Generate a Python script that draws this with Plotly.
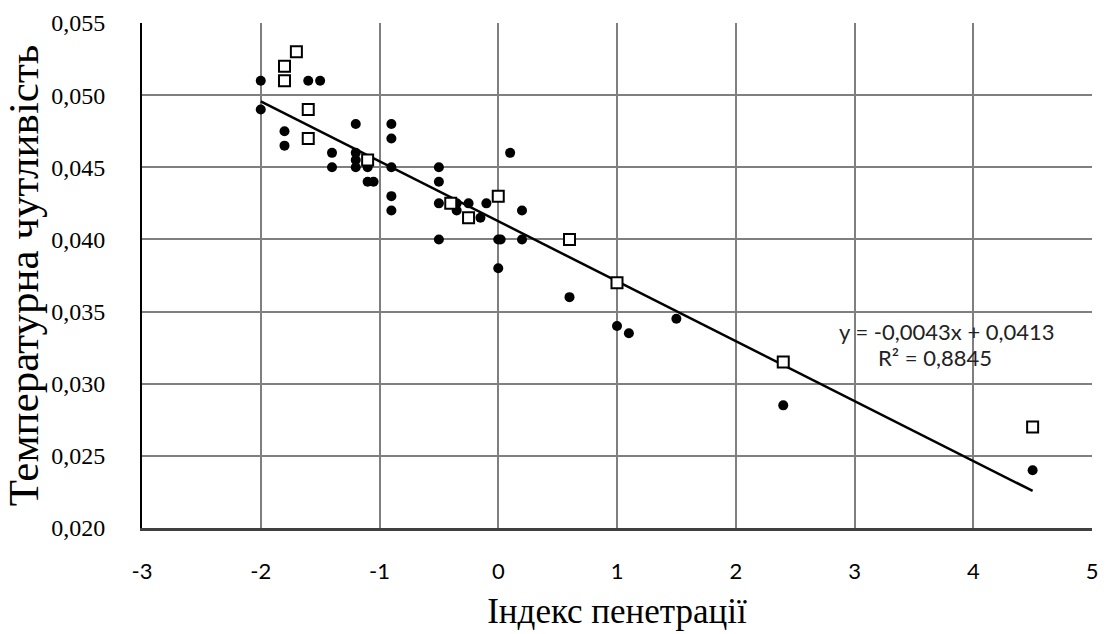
import numpy as np
import plotly.graph_objects as go

# Filled circles (series 1)
dots_x = [-2.0, -2.0, -1.8, -1.8, -1.6, -1.5, -1.4, -1.4, -1.2, -1.2, -1.2, -1.2,
          -1.1, -1.1, -1.05, -0.9, -0.9, -0.9, -0.9, -0.9, -0.5, -0.5, -0.5, -0.5,
          -0.35, -0.35, -0.25, -0.15, -0.1, 0.0, 0.02, 0.0, 0.1, 0.2, 0.2, 0.6,
          1.0, 1.1, 1.5, 2.4, 4.5]
dots_y = [0.051, 0.049, 0.0475, 0.0465, 0.051, 0.051, 0.046, 0.045, 0.048, 0.046, 0.0455, 0.045,
          0.045, 0.044, 0.044, 0.048, 0.047, 0.045, 0.043, 0.042, 0.045, 0.044, 0.0425, 0.040,
          0.0425, 0.042, 0.0425, 0.0415, 0.0425, 0.040, 0.040, 0.038, 0.046, 0.042, 0.040, 0.036,
          0.034, 0.0335, 0.0345, 0.0285, 0.024]

# Open squares (series 2)
sq_x = [-1.7, -1.8, -1.8, -1.6, -1.6, -1.1, -0.4, -0.25, 0.0, 0.6, 1.0, 2.4, 4.5]
sq_y = [0.053, 0.052, 0.051, 0.049, 0.047, 0.0455, 0.0425, 0.0415, 0.043, 0.040, 0.037, 0.0315, 0.027]

x_tick_vals = [-3, -2, -1, 0, 1, 2, 3, 4, 5]
x_tick_text = ["-3", "-2", "-1", "0", "1", "2", "3", "4", "5"]
y_tick_vals = [0.020, 0.025, 0.030, 0.035, 0.040, 0.045, 0.050, 0.055]
y_tick_text = ["0,020", "0,025", "0,030", "0,035", "0,040", "0,045", "0,050", "0,055"]

eq_text = "y = -0,0043x + 0,0413"
r2_text = "R² = 0,8845"

# linear trendline fitted to all plotted points
all_x = dots_x + sq_x
all_y = dots_y + sq_y
slope, intercept = np.polyfit(all_x, all_y, 1)
tx = np.array([min(all_x), max(all_x)])
ty = slope * tx + intercept

SERIF = "Liberation Serif, Times New Roman, serif"
SANS = "Lato, Carlito, Calibri, sans-serif"

fig = go.Figure()
fig.add_trace(go.Scatter(x=tx, y=ty, mode="lines",
                         line=dict(color="black", width=2.5), showlegend=False))
fig.add_trace(go.Scatter(x=dots_x, y=dots_y, mode="markers",
                         marker=dict(symbol="circle", size=10, color="black"),
                         showlegend=False))
fig.add_trace(go.Scatter(x=sq_x, y=sq_y, mode="markers",
                         marker=dict(symbol="square", size=11, color="white",
                                     line=dict(color="black", width=2)),
                         showlegend=False))

fig.add_annotation(x=3.78, y=0.0336, xref="x", yref="y", text=eq_text, showarrow=False,
                   font=dict(family=SANS, size=22, color="#222"))
fig.add_annotation(x=3.68, y=0.0318, xref="x", yref="y", text=r2_text, showarrow=False,
                   font=dict(family=SANS, size=22, color="#222"))

fig.update_layout(
    width=1107, height=634,
    margin=dict(l=142, r=9, t=23, b=99),
    plot_bgcolor="white", paper_bgcolor="white",
    xaxis=dict(range=[-3, 5], tickvals=x_tick_vals, ticktext=x_tick_text,
               showgrid=True, gridcolor="#7f7f7f", gridwidth=1.5, zeroline=False,
               showline=True, linecolor="#404040", linewidth=2.5,
               ticks="", ticklabelstandoff=22,
               tickfont=dict(family=SANS, size=22, color="black"),
               title=dict(text="Індекс пенетрації", standoff=16,
                          font=dict(family=SERIF, size=35, color="black"))),
    yaxis=dict(range=[0.020, 0.055], tickvals=y_tick_vals, ticktext=y_tick_text,
               showgrid=True, gridcolor="#7f7f7f", gridwidth=1.5, zeroline=False,
               showline=True, linecolor="black", linewidth=2,
               ticks="", ticklabelstandoff=30,
               tickfont=dict(family=SERIF, size=24, color="black"),
               title=dict(text="Температурна чутливість", standoff=6,
                          font=dict(family=SERIF, size=43, color="black"))),
)

fig.write_html("out.html")
